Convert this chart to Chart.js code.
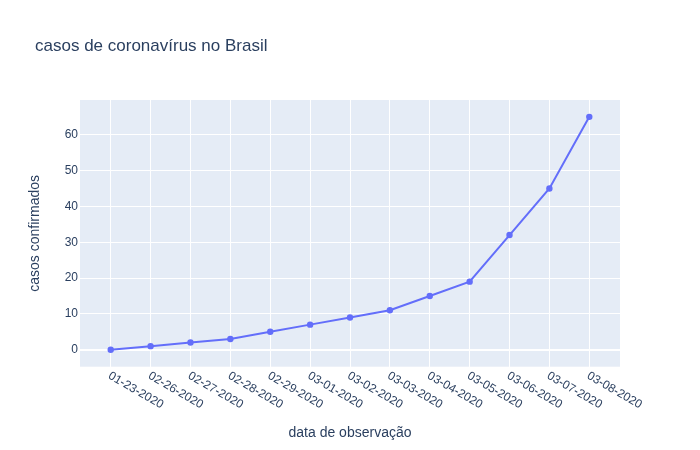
<!DOCTYPE html>
<html lang="pt">
<head>
    <meta charset="UTF-8">
    <title>casos de coronavírus no Brasil</title>
    <script src="https://cdn.jsdelivr.net/npm/chart.js"></script>
    <style>
        body {
            margin: 0;
            background: white;
        }
        canvas {
            display: block;
        }
    </style>
</head>
<body>
    <canvas id="casosChart" width="700" height="450"></canvas>

    <script>
        const dates = ["01-23-2020", "02-26-2020", "02-27-2020", "02-28-2020", "02-29-2020", "03-01-2020",
            "03-02-2020", "03-03-2020", "03-04-2020", "03-05-2020", "03-06-2020", "03-07-2020", "03-08-2020"];
        const confirmed = [0, 1, 2, 3, 5, 7, 9, 11, 15, 19, 32, 45, 65];
        const yTicks = [0, 10, 20, 30, 40, 50, 60];

        const FONT = "'Liberation Sans', Arial, sans-serif";
        const TEXT = "#2a3f5f";

        // plot background, rotated date labels and title (plotly style)
        const plotlyLook = {
            id: "plotlyLook",
            beforeDraw(chart) {
                const a = chart.chartArea;
                const ctx = chart.ctx;
                ctx.save();
                ctx.fillStyle = "#e5ecf6";
                ctx.fillRect(a.left, a.top, a.right - a.left, a.bottom - a.top);
                ctx.restore();
            },
            afterDraw(chart) {
                const ctx = chart.ctx;
                const xs = chart.scales.x;
                ctx.save();
                ctx.fillStyle = TEXT;
                ctx.font = "17px " + FONT;
                ctx.textAlign = "left";
                ctx.textBaseline = "alphabetic";
                ctx.fillText("casos de coronavírus no Brasil", 35, 51);

                ctx.font = "12px " + FONT;
                ctx.textBaseline = "middle";
                dates.forEach((d, i) => {
                    const px = xs.getPixelForValue(i);
                    ctx.save();
                    ctx.translate(px - 1.5, 375);
                    ctx.rotate(Math.PI / 6);
                    ctx.fillText(d, 0, 0);
                    ctx.restore();
                });
                ctx.restore();
            }
        };

        new Chart(document.getElementById("casosChart"), {
            type: "line",
            data: {
                datasets: [{
                    data: confirmed.map((v, i) => ({ x: i, y: v })),
                    borderColor: "#636efa",
                    backgroundColor: "#636efa",
                    borderWidth: 2,
                    pointRadius: 3.2,
                    pointBorderWidth: 0,
                    tension: 0,
                    fill: false
                }]
            },
            options: {
                responsive: false,
                animation: false,
                layout: { padding: { top: 100, right: 80, left: 0, bottom: 0 } },
                plugins: {
                    legend: { display: false },
                    tooltip: { enabled: false }
                },
                scales: {
                    x: {
                        type: "linear",
                        min: -0.77,
                        max: 12.77,
                        afterFit(scale) { scale.height = 83.3; },
                        afterBuildTicks(scale) { scale.ticks = dates.map((d, i) => ({ value: i })); },
                        border: { display: false },
                        grid: { color: "#ffffff", lineWidth: 1, drawTicks: false },
                        ticks: { display: false },
                        title: {
                            display: true,
                            text: "data de observação",
                            color: TEXT,
                            font: { family: FONT, size: 14 },
                            padding: { top: 0, bottom: 8.6 }
                        }
                    },
                    y: {
                        min: -4.74,
                        max: 69.7,
                        afterFit(scale) { scale.width = 80; },
                        afterBuildTicks(scale) { scale.ticks = yTicks.map(v => ({ value: v })); },
                        border: { display: false },
                        grid: {
                            color: "#ffffff",
                            lineWidth: ctx => (ctx.tick && ctx.tick.value === 0 ? 2 : 1),
                            drawTicks: false
                        },
                        ticks: {
                            color: TEXT,
                            font: { family: FONT, size: 12 },
                            padding: 2
                        },
                        title: {
                            display: true,
                            text: "casos confirmados",
                            color: TEXT,
                            font: { family: FONT, size: 14 },
                            padding: { top: 27, bottom: 0 }
                        }
                    }
                }
            },
            plugins: [plotlyLook]
        });
    </script>
</body>
</html>
